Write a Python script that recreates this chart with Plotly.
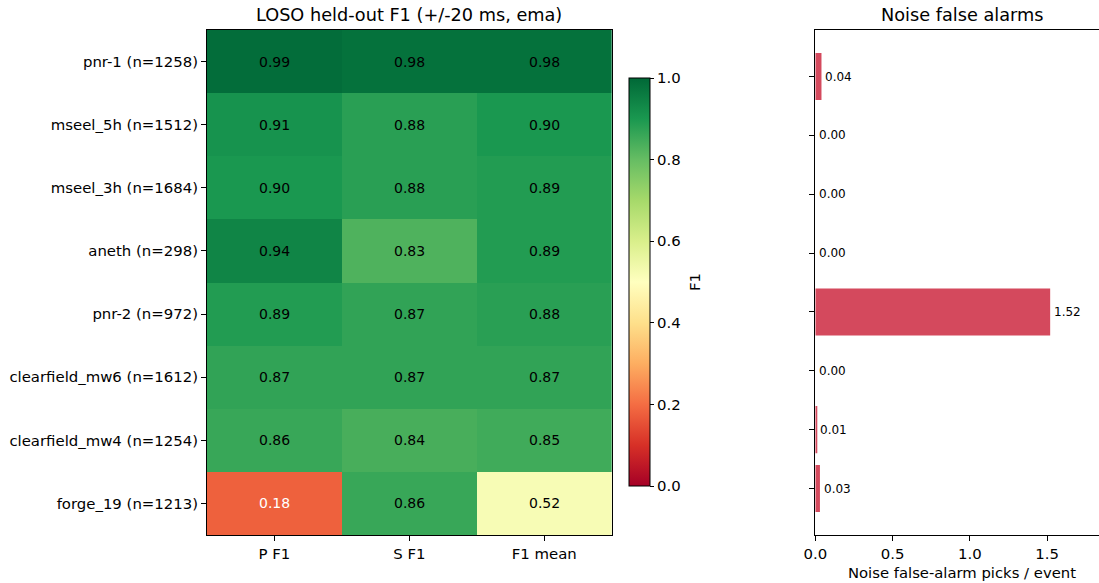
import plotly.graph_objects as go

sites = ["pnr-1 (n=1258)", "mseel_5h (n=1512)", "mseel_3h (n=1684)", "aneth (n=298)",
         "pnr-2 (n=972)", "clearfield_mw6 (n=1612)", "clearfield_mw4 (n=1254)", "forge_19 (n=1213)"]
metrics = ["P F1", "S F1", "F1 mean"]
p_f1 = [0.99, 0.91, 0.90, 0.94, 0.89, 0.87, 0.86, 0.18]
s_f1 = [0.98, 0.88, 0.88, 0.83, 0.87, 0.87, 0.84, 0.86]
f1_mean = [0.98, 0.90, 0.89, 0.89, 0.88, 0.87, 0.85, 0.52]
noise_fa = [0.04, 0.00, 0.00, 0.00, 1.52, 0.00, 0.007, 0.03]

W, H = 1099, 583
FONT = "DejaVu Sans"
TICK = 14.9

def px_x(p):
    return p / W

def px_y(p):
    return 1 - p / H

z = [[a, b, c] for a, b, c in zip(p_f1, s_f1, f1_mean)]

fig = go.Figure()
fig.add_trace(go.Heatmap(
    z=z, x=metrics, y=sites, zmin=0, zmax=1, colorscale="RdYlGn",
    xaxis="x", yaxis="y", hoverinfo="skip",
    colorbar=dict(
        x=px_x(629), xanchor="left", xref="paper",
        y=px_y(282), yanchor="middle", yref="paper",
        len=408 / H, lenmode="fraction", thickness=21, thicknessmode="pixels",
        outlinecolor="black", outlinewidth=1,
        ticks="outside", ticklen=4, tickcolor="black",
        tickvals=[0, 0.2, 0.4, 0.6, 0.8, 1.0], ticktext=["0.0", "0.2", "0.4", "0.6", "0.8", "1.0"],
        tickfont=dict(family=FONT, size=TICK, color="black"),
        xpad=0, ypad=0,
    ),
))

fig.add_trace(go.Bar(
    x=noise_fa, y=list(range(len(sites))), orientation="h", width=0.8,
    marker=dict(color="#d4495d", line=dict(width=0)),
    xaxis="x2", yaxis="y2", hoverinfo="skip",
))

annotations = []
for i, s in enumerate(sites):
    for j, m in enumerate(metrics):
        v = z[i][j]
        annotations.append(dict(
            x=m, y=s, xref="x", yref="y", text=f"{v:.2f}", showarrow=False,
            font=dict(family=FONT, size=14, color="white" if v < 0.3 else "black"),
        ))
for i, v in enumerate(noise_fa):
    annotations.append(dict(
        x=v, y=i, xref="x2", yref="y2", text=f"{v:.2f}", showarrow=False,
        xanchor="left", xshift=2,
        font=dict(family=FONT, size=12, color="black"),
    ))
# titles
annotations.append(dict(
    x=(px_x(207) + px_x(611.7)) / 2, y=px_y(15), xref="paper", yref="paper",
    text="LOSO held-out F1 (+/-20 ms, ema)", showarrow=False, xanchor="center", yanchor="middle",
    font=dict(family=FONT, size=17.7, color="black"),
))
annotations.append(dict(
    x=px_x(962), y=px_y(15), xref="paper", yref="paper",
    text="Noise false alarms", showarrow=False, xanchor="center", yanchor="middle",
    font=dict(family=FONT, size=17.7, color="black"),
))
annotations.append(dict(
    x=px_x(695), y=px_y(282), xref="paper", yref="paper",
    text="F1", showarrow=False, textangle=-90, xanchor="center", yanchor="middle",
    font=dict(family=FONT, size=TICK, color="black"),
))
annotations.append(dict(
    x=px_x(962), y=px_y(572), xref="paper", yref="paper",
    text="Noise false-alarm picks / event", showarrow=False, xanchor="center", yanchor="middle",
    font=dict(family=FONT, size=14.8, color="black"),
))

axis_common = dict(showline=True, linecolor="black", linewidth=1, showgrid=False, zeroline=False,
                   ticks="outside", ticklen=5, tickcolor="black", tickwidth=1, automargin=False,
                   tickfont=dict(family=FONT, size=TICK, color="black"))

fig.update_layout(
    width=W, height=H, margin=dict(l=0, r=0, t=0, b=0, autoexpand=False),
    paper_bgcolor="white", plot_bgcolor="white", showlegend=False,
    xaxis=dict(domain=[px_x(207), px_x(611.7)], anchor="y", mirror=True, **axis_common),
    yaxis=dict(domain=[px_y(535), px_y(30)], anchor="x", mirror=True, autorange="reversed",
               **axis_common),
    xaxis2=dict(domain=[px_x(815.3), 1.0], anchor="y2", range=[0, 1.836], mirror=True,
                tickvals=[0, 0.5, 1.0, 1.5], ticktext=["0.0", "0.5", "1.0", "1.5"],
                **axis_common),
    yaxis2=dict(domain=[px_y(535), px_y(30)], anchor="x2", range=[7.79, -0.79],
                tickvals=list(range(len(sites))), showticklabels=False, mirror=False,
                **axis_common),
    annotations=annotations,
)

fig.write_html("out.html")
